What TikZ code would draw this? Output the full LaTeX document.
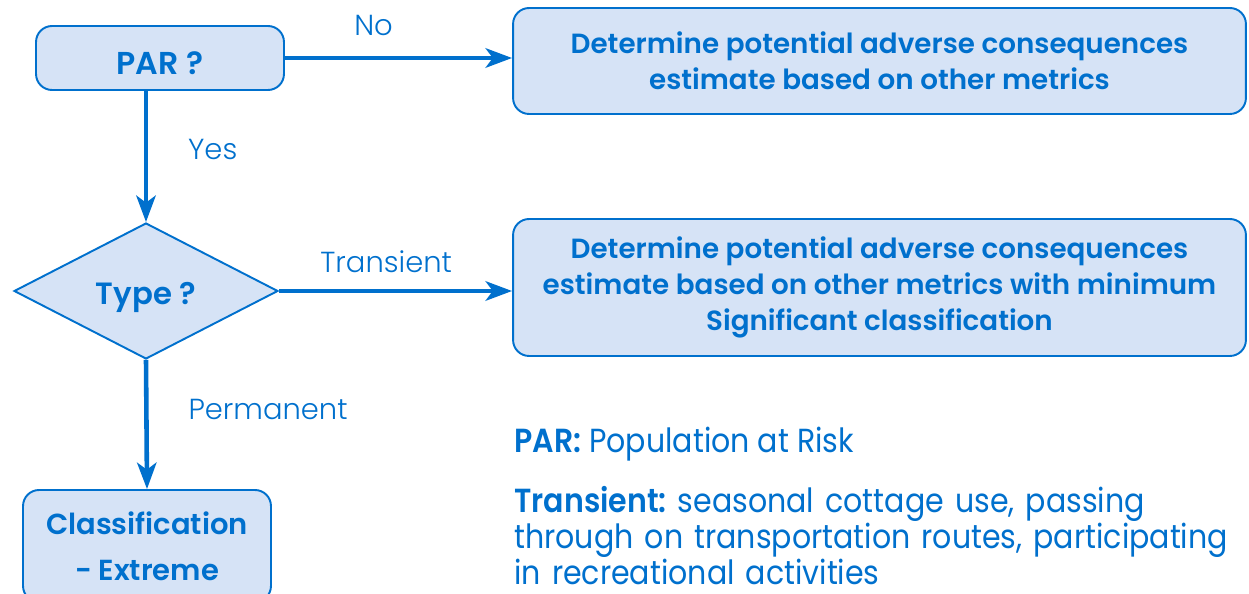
\documentclass[tikz,border=0pt]{standalone}
\usepackage{fontspec}
\setmainfont{Poppins}[BoldFont={Poppins SemiBold}]
\newfontfamily\legendfont{Poppins}[FakeStretch=0.9,BoldFont={Poppins SemiBold}]
\newfontfamily\thinfont{Poppins Light}
\usetikzlibrary{shapes.geometric,arrows.meta,positioning}
\definecolor{flowblue}{RGB}{0,112,205}
\definecolor{flowfill}{RGB}{214,227,246}

\tikzset{
  box/.style={draw=flowblue,fill=flowfill,line width=1.1pt,rounded corners=0.32cm,
    text=flowblue,font=\bfseries\fontsize{15.8}{20.4}\selectfont,align=center,inner sep=0pt},
  decision/.style={diamond,draw=flowblue,fill=flowfill,line width=1.1pt,inner sep=0pt,
    minimum width=5.28cm,minimum height=2.72cm,text=flowblue,font=\bfseries\fontsize{17.5}{20.4}\selectfont},
  flow/.style={draw=flowblue,line width=2.6pt,-{Stealth[length=15pt,width=11pt,inset=4pt]}},
  lbl/.style={text=flowblue,font=\thinfont\fontsize{16.5}{19}\selectfont},
  legend/.style={text=flowblue,font=\legendfont\fontsize{19}{20.4}\selectfont\frenchspacing,align=left,inner sep=0pt}
}

\begin{document}
\begin{tikzpicture}[x=0.02cm,y=-0.02cm]
	\useasboundingbox (0,0) rectangle (1249,594);
	% boxes
	\node[box,minimum width=4.96cm,minimum height=1.28cm,font=\bfseries\fontsize{18}{20.4}\selectfont] (par) at (160,58) {\raisebox{-9.6pt}[0pt][0pt]{PAR ?}};
	\node[box,minimum width=14.66cm,minimum height=2.12cm] (noout) at (879.5,61) {Determine potential adverse consequences\\estimate based on other metrics};
	\node[decision] (type) at (146,291) {\raisebox{-7.9pt}[0pt][0pt]{Type ?}};
	\node[box,minimum width=14.66cm,minimum height=2.74cm] (transout) at (879.5,287.5) {Determine potential adverse consequences\\estimate based on other metrics with minimum\\Significant classification};
	\node[box,minimum width=4.96cm,minimum height=2.24cm,font=\bfseries\fontsize{16.5}{26}\selectfont] (extreme) at (147,546) {Classification\\- Extreme};
	% connectors
	\draw[flow] (par.east) -- node[lbl,above,yshift=0.28cm,pos=0.39] {No} (noout.west |- par.east);
	\draw[flow] (par.south -| type.north) -- node[lbl,right,xshift=0.68cm,pos=0.45] {Yes} (type.north);
	\draw[flow] (type.east) -- node[lbl,above,yshift=0.2cm,pos=0.46] {Transient} (transout.west |- type.east);
	\draw[flow] (type.south) -- node[lbl,right,xshift=0.68cm,pos=0.38] {Permanent} (extreme.north);
	% legend
	\node[legend,anchor=west] (legpar) at (514,444) {\textbf{PAR:} Population at Risk};
	\node[legend,anchor=north west,text width=14.6cm] (legtrans) at (514,486) {\textbf{Transient:} seasonal cottage use, passing\\through on transportation routes, participating\\in recreational activities};
\end{tikzpicture}
\end{document}
